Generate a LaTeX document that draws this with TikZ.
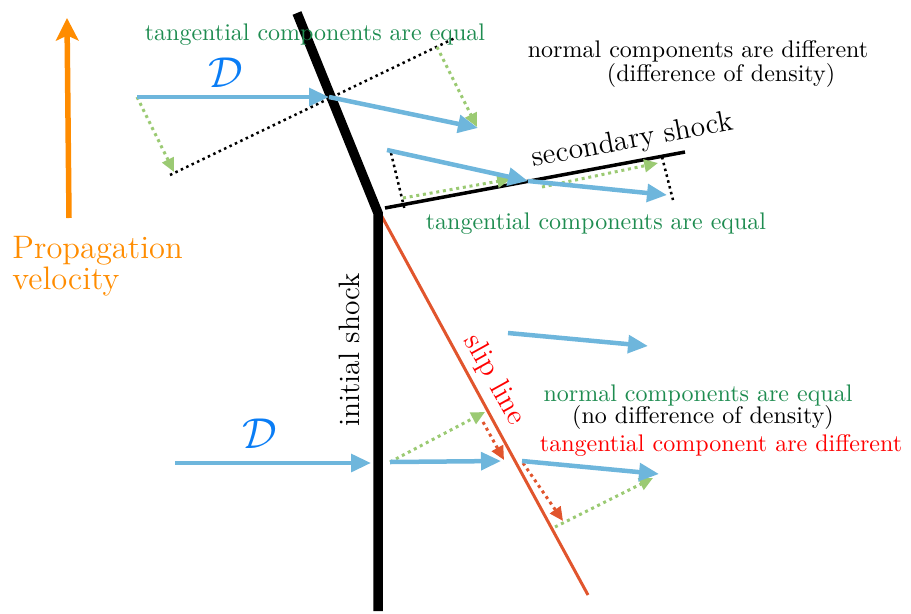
\documentclass[tikz,border=0pt]{standalone}
\usetikzlibrary{arrows.meta}
\definecolor{vblue}{RGB}{110,182,220}
\definecolor{dblue}{RGB}{10,125,245}
\definecolor{tgreen}{RGB}{30,140,80}
\definecolor{lgreen}{RGB}{155,202,115}
\definecolor{slipred}{RGB}{225,85,45}
\definecolor{porange}{RGB}{255,140,0}
\tikzset{
  velarrow/.style={draw=vblue,line width=1.8pt,-{Triangle[length=8pt,width=7pt]}},
  gdot/.style={draw=lgreen,line width=1.2pt,dash pattern=on 1.2pt off 1.5pt,-{Triangle[length=5.5pt,width=5pt]}},
  rdot/.style={draw=slipred,line width=1.2pt,dash pattern=on 1.2pt off 1.5pt,-{Triangle[length=5.5pt,width=5pt]}},
  kdot/.style={draw=black,line width=1pt,dash pattern=on 1pt off 1.4pt},
  shockline/.style={draw=black,line width=3.8pt,line join=miter},
  secline/.style={draw=black,line width=1.4pt},
  slipline/.style={draw=slipred,line width=1.2pt},
  smalltxt/.style={font=\fontsize{9.6}{11.5}\selectfont,inner sep=0pt,anchor=base},
  gtext/.style={smalltxt,text=tgreen},
  btext/.style={smalltxt,text=black},
  rtext/.style={smalltxt,text=red},
  bigtxt/.style={font=\fontsize{11.8}{14}\selectfont,inner sep=0pt},
  dlabel/.style={font=\fontsize{18.5}{22}\selectfont,text=dblue,inner sep=0pt},
  proptxt/.style={font=\fontsize{13}{15}\selectfont,text=porange,inner sep=0pt,anchor=base west}
}
\begin{document}
\begin{tikzpicture}[x=0.4pt,y=-0.4pt]
\useasboundingbox (0,0) rectangle (911,613);
% shocks
\coordinate (shT) at (297,13);
\coordinate (shK) at (378,213);
\coordinate (shB) at (378,611);
\coordinate (slA) at (380,213);
\coordinate (slB) at (588,595);
\coordinate (seA) at (385,208);
\coordinate (seB) at (685,152);
\draw[slipline] (slA) -- (slB);
\draw[shockline] (shT) -- (shK) -- (shB);
\draw[secline] (seA) -- (seB);
% propagation velocity
\coordinate (pvA) at (69,218);
\coordinate (pvB) at (67,18);
\draw[draw=porange,line width=2.2pt,-{Stealth[length=9pt,width=9pt,inset=2pt]}] (pvA) -- (pvB);
\node[proptxt] (prop1) at (12,258) {Propagation};
\node[proptxt] (prop2) at (12,289) {velocity};
% upper region
\coordinate (u0) at (137,97);
\coordinate (u1) at (329,97);
\coordinate (u2) at (478,128);
\coordinate (u3) at (174,172);
\coordinate (k1) at (170,175);
\coordinate (k2) at (455,38);
\coordinate (g1s) at (437,47);
\coordinate (g1e) at (477,127);
\draw[kdot] (k1) -- (k2);
\draw[gdot] (u0) -- (u3);
\draw[gdot] (g1s) -- (g1e);
\draw[velarrow] (u0) -- (u1);
\draw[velarrow] (u1) -- (u2);
\node[dlabel] (D1) at (226,73) {$\mathcal{D}$};
\node[gtext] (t1) at (315,40) {tangential components are equal};
\node[btext] (n1) at (698,57) {normal components are different};
\node[btext] (n2) at (721,81) {(difference of density)};
% secondary shock region
\coordinate (s0) at (387,150);
\coordinate (s1) at (528,181);
\coordinate (s2) at (667,195);
\coordinate (d1) at (391,153);
\coordinate (d2) at (405,211);
\coordinate (d3) at (662,157);
\coordinate (d4) at (673,200);
\coordinate (g2s) at (403,198);
\coordinate (g2e) at (511,179);
\coordinate (g3s) at (542,187);
\coordinate (g3e) at (658,163);
\draw[kdot] (d1) -- (d2);
\draw[kdot] (d3) -- (d4);
\draw[gdot] (g2s) -- (g2e);
\draw[gdot] (g3s) -- (g3e);
\draw[velarrow] (s0) -- (s1);
\draw[velarrow] (s1) -- (s2);
\node[bigtxt,rotate=10.6,anchor=base] (secl) at (634,148) {secondary shock};
\node[gtext] (t2) at (596,229) {tangential components are equal};
% lower region
\coordinate (L0) at (175,463);
\coordinate (L1) at (371,463);
\coordinate (L2) at (390,462);
\coordinate (L3) at (501,461);
\coordinate (L4) at (522,461);
\coordinate (L5) at (659,474);
\coordinate (L6) at (508,333);
\coordinate (L7) at (648,346);
\coordinate (gl1) at (485,412);
\coordinate (r1s) at (483,422);
\coordinate (r1e) at (504,460);
\coordinate (r2s) at (523,463);
\coordinate (r2e) at (563,521);
\coordinate (gl2s) at (555,527);
\coordinate (gl2e) at (653,478);
\draw[gdot] (L2) -- (gl1);
\draw[rdot] (r1s) -- (r1e);
\draw[rdot] (r2s) -- (r2e);
\draw[gdot] (gl2s) -- (gl2e);
\draw[velarrow] (L0) -- (L1);
\draw[velarrow] (L2) -- (L3);
\draw[velarrow] (L4) -- (L5);
\draw[velarrow] (L6) -- (L7);
\node[dlabel] (D2) at (260,434) {$\mathcal{D}$};
\node[bigtxt,rotate=90,anchor=base] (inis) at (359,350) {initial shock};
\node[bigtxt,rotate=-61,text=red] (slipl) at (494,380) {slip line};
\node[gtext] (n3) at (698,401) {normal components are equal};
\node[btext] (n4) at (703,423) {(no difference of density)};
\node[rtext] (t3) at (721,451) {tangential component are different};
\end{tikzpicture}
\end{document}
